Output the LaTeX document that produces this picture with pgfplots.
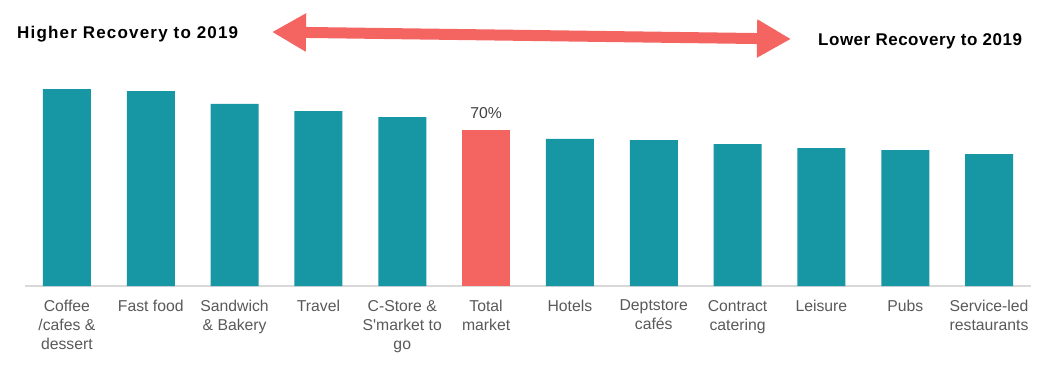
\documentclass[border=0pt]{standalone}
\usepackage{fontspec}
\setmainfont{Liberation Sans}
\usepackage{pgfplots}
\pgfplotsset{compat=1.18}
\usetikzlibrary{arrows.meta}
\definecolor{teal1}{RGB}{23,150,164}
\definecolor{red1}{RGB}{244,100,96}
\definecolor{lbl}{RGB}{89,89,89}
\definecolor{axg}{RGB}{217,217,217}
\begin{document}
\begin{tikzpicture}
\useasboundingbox (-25bp,-92bp) rectangle (1024bp,286bp);
\begin{axis}[
  at={(0,0)}, anchor=south west,
  scale only axis,
  width=1006bp, height=206bp,
  xmin=-0.5, xmax=11.5, ymin=0, ymax=92.44,
  axis x line=bottom, axis y line=none,
  axis line style={draw=axg, line width=1.5bp, -},
  xtick={0,1,2,3,4,5,6,7,8,9,10,11},
  xticklabels={{Coffee\\/cafes \&\\dessert},{Fast food},{Sandwich\\\& Bakery},{Travel},{C-Store \&\\S\textquotesingle market to\\go},{Total\\market},{Hotels},{Deptstore\\cafés},{Contract\\catering},{Leisure},{Pubs},{Service-led\\restaurants}},
  xticklabel style={align=center, font=\fontsize{15.75bp}{19bp}\selectfont, text=lbl, yshift=-10.5bp},
  major tick length=0pt,
  ytick=\empty,
  ybar, bar width=48bp, bar shift=0pt,
  clip=false,
  /pgf/number format/assume math mode=true,
]
\addplot[fill=teal1, draw=none] coordinates {(0,88.4) (1,87.5) (2,81.7) (3,78.5) (4,75.8) (6,66.0) (7,65.5) (8,63.7) (9,61.9) (10,61.0) (11,59.2)};
\addplot[fill=red1, draw=none, nodes near coords={\pgfmathprintnumber{\pgfplotspointmeta}\%}, nodes near coords style={font=\fontsize{15.75bp}{18bp}\selectfont, text={rgb,255:red,64;green,64;blue,64}, yshift=8bp}] coordinates {(5,70)};
\end{axis}
\node[anchor=west, inner sep=0pt, font=\fontsize{17bp}{19bp}\selectfont\bfseries\addfontfeatures{LetterSpace=7}] at (-8bp,252bp) {Higher Recovery to 2019};
\node[anchor=west, inner sep=0pt, font=\fontsize{17bp}{19bp}\selectfont\bfseries\addfontfeatures{LetterSpace=3}] at (793bp,244.5bp) {Lower Recovery to 2019};
\draw[red1, line width=11bp, {Triangle[length=34bp,width=36bp]}-{Triangle[length=34bp,width=36bp]}] (247bp,254bp) -- (766bp,247bp);
\end{tikzpicture}
\end{document}
